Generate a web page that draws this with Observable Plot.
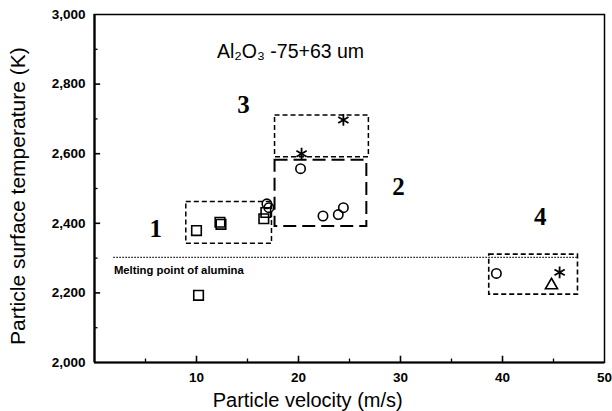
<!DOCTYPE html>
<html>
<head>
<meta charset="utf-8">
<script src="https://cdn.jsdelivr.net/npm/d3@7"></script>
<script src="https://cdn.jsdelivr.net/npm/@observablehq/plot@0.6"></script>
<style>
  html, body { margin: 0; padding: 0; background: #fff; }
  #chart svg { display: block; }
</style>
</head>
<body>
<div id="chart"></div>
<script>
// ---- data ----
const squaresX = [10.0, 12.3, 12.4, 16.6, 16.8, 10.2];
const squaresY = [2379, 2403, 2397, 2413, 2431, 2193];

const circlesX = [16.9, 17.1, 20.2, 22.4, 23.9, 24.4, 39.4];
const circlesY = [2456, 2445, 2557, 2421, 2425, 2445, 2256];

const asterisksX = [20.3, 24.4, 45.6];
const asterisksY = [2600, 2697, 2259];

const trianglesX = [44.8];
const trianglesY = [2222];

// regions (boxes)
const boxNames = ["1", "3", "2", "4"];
const boxX1 = [9.0, 17.7, 17.7, 38.7];
const boxX2 = [17.4, 26.9, 26.7, 47.4];
const boxY1 = [2341, 2590, 2391, 2195];
const boxY2 = [2461, 2710, 2581, 2310];

const regionLabels = ["1", "2", "3", "4"];
const regionLabelX = [6.0, 29.8, 14.6, 43.7];
const regionLabelY = [2384, 2505, 2739, 2419];

const meltingPoint = 2302;
const meltingX = [1.9, 47.4];
const meltingLabel = "Melting point of alumina";

const titleText = "Al\u2082O\u2083 -75+63 um";
const xLabel = "Particle velocity (m/s)";
const yLabel = "Particle surface temperature (K)";

const xTickLabels = [10, 20, 30, 40, 50];
const xMajorTicks = [10, 20, 30, 40];
const xMinorTicks = [5, 15, 25, 35, 45];
const yTickLabels = [2000, 2200, 2400, 2600, 2800, 3000];
const yMajorTicks = [2200, 2400, 2600, 2800];
const yMinorTicks = [2100, 2300, 2500, 2700, 2900];

// ---- build tables ----
const pts = (xs, ys) => xs.map((x, i) => ({x, y: ys[i]}));
const boxes = boxNames.map((n, i) => ({n, x1: boxX1[i], x2: boxX2[i], y1: boxY1[i], y2: boxY2[i]}));
const labels = regionLabels.map((t, i) => ({t, x: regionLabelX[i], y: regionLabelY[i]}));

const sans = "'Liberation Sans', Arial, Helvetica, sans-serif";
const serif = "'Liberation Serif', 'Times New Roman', serif";

const boxStyle = {
  "1": {dash: "5,3", w: 1.5},
  "3": {dash: "5,3", w: 1.5},
  "2": {dash: "13,6", w: 2},
  "4": {dash: "5,3", w: 1.6}
};

const dotStyle = {x: "x", y: "y", stroke: "#000", strokeWidth: 1.6, fill: "none"};

const chart = Plot.plot({
  width: 612,
  height: 411,
  marginLeft: 94,
  marginRight: 8,
  marginTop: 14,
  marginBottom: 49,
  x: {domain: [0, 50], axis: null},
  y: {domain: [2000, 3000], axis: null},
  style: {background: "#fff", color: "#000", fontFamily: sans},
  marks: [
    // melting point dotted line
    Plot.ruleY([meltingPoint], {x1: meltingX[0], x2: meltingX[1], stroke: "#000", strokeWidth: 1.4, strokeDasharray: "1.4,1.6"}),
    Plot.text([meltingLabel], {x: meltingX[0], y: 2264, text: d => d, textAnchor: "start", fontSize: 11.3, fontWeight: "bold", fontFamily: sans, fill: "#000"}),
    // boxes
    ...boxes.map(b => Plot.rect([b], {x1: "x1", x2: "x2", y1: "y1", y2: "y2", fill: "none", stroke: "#000",
      strokeWidth: boxStyle[b.n].w, strokeDasharray: boxStyle[b.n].dash})),
    // points
    Plot.dot(pts(squaresX, squaresY), {...dotStyle, symbol: "square", r: 5.4}),
    Plot.dot(pts(circlesX, circlesY), {...dotStyle, symbol: "circle", r: 4.7}),
    Plot.dot(pts(asterisksX, asterisksY), {...dotStyle, symbol: "asterisk", r: 5.6, strokeWidth: 1.8}),
    Plot.dot(pts(trianglesX, trianglesY), {...dotStyle, symbol: "triangle", r: 4.5}),
    // region labels
    Plot.text(labels, {x: "x", y: "y", text: "t", fontSize: 25, fontWeight: "bold", fontFamily: serif, fill: "#000"}),
    // title
    Plot.text([titleText], {x: 12, y: 2893, text: d => d, textAnchor: "start", fontSize: 19.5, fontFamily: sans, fill: "#000"}),
    // frame and thicker left/bottom axis lines
    Plot.frame({stroke: "#000", strokeWidth: 1.5}),
    Plot.ruleX([0], {stroke: "#000", strokeWidth: 2.2}),
    Plot.ruleY([2000], {stroke: "#000", strokeWidth: 2.2}),
    // inward ticks
    Plot.ruleX(xMajorTicks, {y1: 2000, y2: 2018, stroke: "#000", strokeWidth: 1.6}),
    Plot.ruleX(xMinorTicks, {y1: 2000, y2: 2010, stroke: "#000", strokeWidth: 1.3}),
    Plot.ruleY(yMajorTicks, {x1: 0, x2: 0.6, stroke: "#000", strokeWidth: 1.6}),
    Plot.ruleY(yMinorTicks, {x1: 0, x2: 0.35, stroke: "#000", strokeWidth: 1.3}),
    // tick labels
    Plot.text(xTickLabels, {x: d => d, y: 2000, text: d => String(d), dy: 15, fontSize: 13.5, fontWeight: "bold", fontFamily: sans, fill: "#000"}),
    Plot.text(yTickLabels, {x: 0, y: d => d, text: d => d3.format(",")(d), dx: -9, textAnchor: "end", fontSize: 13.5, fontWeight: "bold", fontFamily: sans, fill: "#000"}),
    // axis titles
    Plot.text([xLabel], {x: 20.9, y: 2000, text: d => d, dy: 38, fontSize: 20, fontFamily: sans, fill: "#000"}),
    Plot.text([yLabel], {x: -7.5, y: 2478, text: d => d, rotate: -90, fontSize: 21, fontFamily: sans, fill: "#000"})
  ]
});
document.getElementById("chart").appendChild(chart);
</script>
</body>
</html>
